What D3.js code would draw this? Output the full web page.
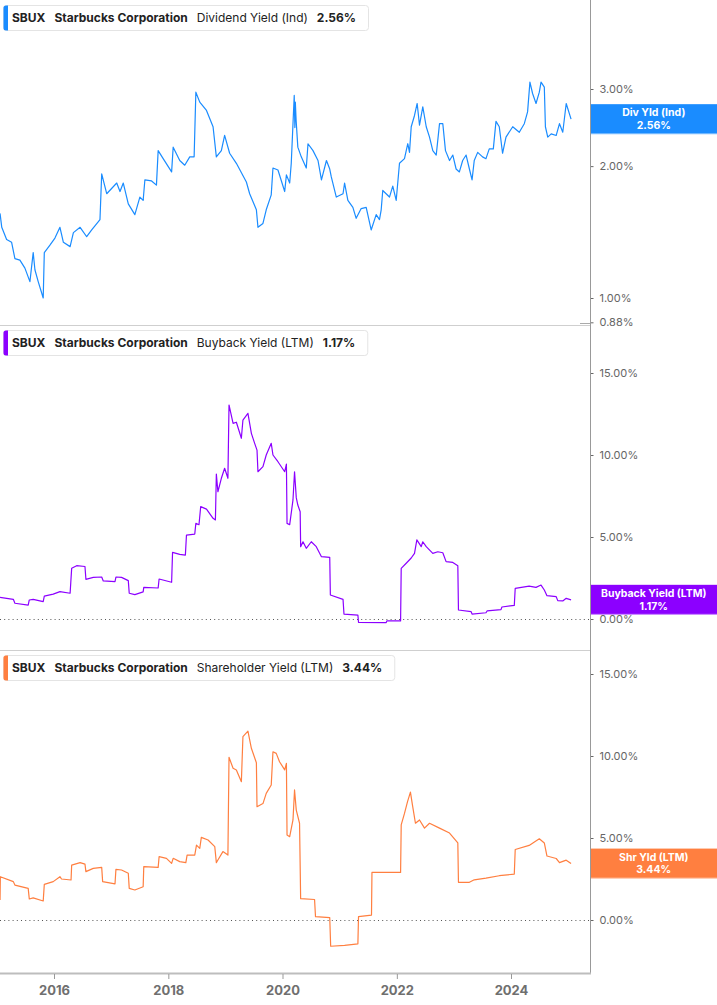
<!DOCTYPE html>
<html><head><meta charset="utf-8">
<script src="https://cdn.jsdelivr.net/npm/d3@7"></script>
<style>
body{margin:0;background:#fff;}
svg{display:block;font-family:Inter,"Noto Sans",sans-serif;}
</style>
</head><body>
<svg id="chart" width="717" height="1005"></svg>
<script>
// ---------- DATA ----------
const xTickYears = [2016, 2018, 2020, 2022, 2024];
const divTickValues = [3, 2, 1, 0.88];
const pctTickValues = [15, 10, 5, 0];

const divDates = ["2015-01-21","2015-02-01","2015-03-04","2015-04-05","2015-04-26","2015-05-28","2015-06-29","2015-07-31","2015-08-21","2015-09-01","2015-09-22","2015-10-24","2015-10-31","2015-12-06","2016-01-07","2016-02-08","2016-03-01","2016-04-13","2016-05-04","2016-06-16","2016-07-28","2016-08-29","2016-10-21","2016-11-01","2016-12-03","2017-02-05","2017-02-26","2017-03-19","2017-04-20","2017-06-01","2017-07-03","2017-07-24","2017-08-04","2017-09-16","2017-10-17","2017-10-28","2017-11-29","2018-01-22","2018-02-01","2018-03-15","2018-04-16","2018-05-18","2018-06-15","2018-06-26","2018-07-21","2018-09-02","2018-10-14","2018-11-04","2018-12-06","2018-12-27","2019-01-28","2019-03-12","2019-05-15","2019-06-05","2019-07-18","2019-07-28","2019-08-29","2019-09-19","2019-10-21","2019-11-01","2019-12-03","2020-01-15","2020-01-26","2020-02-16","2020-02-26","2020-03-16","2020-03-20","2020-03-23","2020-03-28","2020-04-08","2020-04-30","2020-06-01","2020-06-12","2020-07-14","2020-08-15","2020-09-06","2020-10-08","2020-10-29","2020-11-08","2020-12-10","2021-01-22","2021-02-01","2021-02-22","2021-03-26","2021-04-16","2021-05-18","2021-06-19","2021-07-21","2021-08-22","2021-09-12","2021-09-23","2021-10-03","2021-11-15","2021-12-06","2021-12-28","2022-01-18","2022-02-19","2022-03-12","2022-03-23","2022-04-03","2022-04-24","2022-05-11","2022-05-26","2022-06-16","2022-07-08","2022-07-29","2022-08-19","2022-09-10","2022-10-01","2022-10-22","2022-11-08","2022-12-04","2022-12-25","2023-01-15","2023-02-05","2023-02-26","2023-03-20","2023-04-10","2023-04-27","2023-05-11","2023-06-02","2023-07-03","2023-07-25","2023-08-15","2023-09-10","2023-09-27","2023-10-18","2023-11-08","2023-11-30","2024-01-12","2024-02-23","2024-03-26","2024-04-16","2024-05-01","2024-05-18","2024-06-09","2024-06-30","2024-07-11","2024-08-01","2024-08-08","2024-08-23","2024-09-14","2024-10-16","2024-11-06","2024-11-27","2024-12-19","2025-01-19"];
const divValues = [1.56,1.45,1.36,1.34,1.23,1.22,1.17,1.09,1.27,1.16,1.09,1.00,1.27,1.32,1.37,1.45,1.34,1.31,1.41,1.45,1.38,1.43,1.51,1.92,1.73,1.83,1.75,1.83,1.64,1.55,1.70,1.67,1.86,1.85,1.81,2.17,2.08,1.94,2.21,2.06,2.01,2.10,2.10,2.95,2.80,2.68,2.46,2.10,2.17,2.35,2.14,2.03,1.84,1.73,1.59,1.45,1.48,1.59,1.72,1.98,1.96,1.75,1.91,1.83,2.03,2.90,2.45,2.80,2.55,2.21,2.10,1.98,2.25,2.17,2.06,1.86,2.06,1.97,1.89,1.70,1.73,1.83,1.67,1.61,1.52,1.60,1.61,1.43,1.55,1.51,1.59,1.76,1.70,1.80,1.67,2.03,2.08,2.25,2.15,2.46,2.61,2.78,2.48,2.73,2.46,2.33,2.17,2.12,2.50,2.50,2.17,2.06,2.12,1.97,1.94,2.06,2.12,1.97,1.86,2.06,2.15,2.10,2.08,2.19,2.19,2.53,2.46,2.14,2.33,2.46,2.39,2.50,2.66,3.11,2.93,2.78,2.95,3.11,3.03,2.46,2.33,2.37,2.35,2.50,2.39,2.78,2.56];

const buybackDates = ["2015-01-21","2015-04-16","2015-04-26","2015-07-20","2015-07-27","2015-08-21","2015-10-24","2015-10-31","2015-12-27","2016-02-08","2016-04-13","2016-04-23","2016-05-25","2016-07-17","2016-07-23","2016-09-08","2016-11-01","2016-11-11","2017-01-25","2017-01-31","2017-03-08","2017-04-20","2017-04-26","2017-06-01","2017-07-24","2017-07-28","2017-10-28","2017-11-03","2018-01-22","2018-01-28","2018-03-15","2018-04-20","2018-04-27","2018-06-19","2018-06-26","2018-07-16","2018-07-27","2018-09-02","2018-10-14","2018-10-29","2018-11-04","2018-11-14","2018-12-06","2018-12-27","2019-01-17","2019-01-24","2019-02-19","2019-03-12","2019-04-13","2019-04-23","2019-05-25","2019-06-16","2019-07-07","2019-07-22","2019-07-28","2019-08-29","2019-09-19","2019-10-21","2019-11-01","2019-12-03","2020-01-15","2020-01-26","2020-01-30","2020-02-16","2020-03-08","2020-03-18","2020-03-29","2020-04-08","2020-04-23","2020-04-26","2020-05-11","2020-06-01","2020-07-03","2020-08-04","2020-09-06","2020-10-29","2020-11-02","2021-01-22","2021-01-28","2021-04-27","2021-05-01","2021-10-25","2021-10-29","2022-01-25","2022-01-29","2022-03-02","2022-04-03","2022-04-24","2022-05-09","2022-06-06","2022-06-16","2022-07-08","2022-08-19","2022-09-20","2022-10-22","2022-11-12","2022-12-25","2023-01-26","2023-01-30","2023-04-21","2023-04-27","2023-07-25","2023-08-01","2023-10-29","2023-11-04","2024-01-22","2024-01-28","2024-04-26","2024-06-09","2024-07-11","2024-08-01","2024-08-18","2024-10-16","2024-10-26","2024-11-27","2024-12-19","2025-01-19"];
const buybackValues = [1.32,1.20,0.96,0.85,1.16,1.20,1.06,1.40,1.52,1.67,1.57,3.09,3.25,3.20,2.42,2.54,2.56,2.32,2.28,2.56,2.54,2.34,1.57,1.49,1.65,1.93,1.89,2.44,2.24,4.06,3.94,3.90,5.12,5.18,5.83,5.75,6.85,6.70,6.14,6.04,8.84,7.76,8.58,9.19,8.58,13.05,11.93,12.00,11.02,12.13,12.54,11.32,10.71,10.30,8.98,9.29,10.00,10.71,10.00,9.59,8.98,9.45,5.83,5.75,7.26,8.98,7.40,6.95,6.54,4.41,4.71,4.31,4.71,4.41,3.80,3.76,1.46,1.20,0.30,0.24,-0.20,-0.22,-0.12,-0.12,3.09,3.40,3.72,4.00,4.82,4.41,4.71,4.41,4.00,4.10,4.04,3.50,3.45,3.25,0.55,0.45,0.30,0.38,0.49,0.57,0.73,0.83,1.87,2.01,1.93,2.07,1.77,1.42,1.36,1.12,1.10,1.26,1.17];

const shareholderDates = ["2015-01-21","2015-01-23","2015-04-16","2015-04-26","2015-07-20","2015-07-27","2015-08-21","2015-10-24","2015-10-31","2015-12-27","2016-02-08","2016-02-18","2016-04-19","2016-04-23","2016-06-16","2016-07-17","2016-07-23","2016-09-08","2016-11-01","2016-11-07","2017-01-25","2017-01-31","2017-03-08","2017-04-20","2017-04-26","2017-06-01","2017-07-24","2017-07-28","2017-10-28","2017-11-03","2017-12-20","2018-01-22","2018-02-01","2018-03-15","2018-04-23","2018-05-01","2018-06-19","2018-06-30","2018-07-21","2018-07-31","2018-09-12","2018-10-25","2018-11-04","2018-11-14","2018-12-16","2019-01-17","2019-01-24","2019-02-19","2019-03-12","2019-04-13","2019-04-23","2019-05-25","2019-06-16","2019-07-18","2019-07-22","2019-08-29","2019-09-19","2019-10-21","2019-11-01","2019-11-22","2019-12-13","2020-01-15","2020-01-26","2020-01-30","2020-02-16","2020-03-08","2020-03-18","2020-03-29","2020-04-19","2020-04-26","2020-07-24","2020-07-30","2020-10-29","2020-11-04","2021-02-01","2021-04-27","2021-05-01","2021-07-23","2021-07-26","2021-12-30","2022-01-25","2022-01-29","2022-02-19","2022-03-10","2022-03-29","2022-04-11","2022-04-30","2022-05-26","2022-06-27","2022-07-29","2022-10-01","2022-12-04","2023-01-26","2023-01-30","2023-04-10","2023-05-11","2023-07-25","2023-10-18","2024-01-22","2024-01-28","2024-04-26","2024-06-30","2024-08-01","2024-08-18","2024-10-16","2024-11-06","2024-12-19","2025-01-19"];
const shareholderValues = [1.22,2.64,2.34,2.13,1.93,1.28,1.35,1.16,2.17,2.34,2.64,2.50,2.44,3.35,3.50,3.41,2.95,3.15,3.21,2.34,2.20,3.09,3.05,2.85,1.93,1.83,2.03,3.25,3.21,3.86,3.76,3.45,3.76,3.56,3.50,3.96,3.96,4.57,4.37,5.04,4.88,4.47,3.50,3.66,4.17,3.96,9.92,9.25,9.15,8.43,11.18,11.52,10.47,9.59,6.91,7.10,7.72,8.23,10.26,10.16,9.65,9.15,9.55,5.18,5.08,6.10,7.93,6.70,5.90,1.30,1.25,0.20,0.15,-1.60,-1.55,-1.45,0.20,0.30,2.90,2.90,2.90,5.80,6.50,7.20,7.80,7.00,5.90,6.10,5.60,5.90,5.60,5.30,4.70,2.30,2.30,2.45,2.55,2.70,2.80,4.30,4.55,4.95,4.70,3.90,3.75,3.50,3.65,3.44];

const seriesNames = ["Dividend Yield (Ind)", "Buyback Yield (LTM)", "Shareholder Yield (LTM)"];
const badgeNames = ["Div Yld (Ind)", "Buyback Yield (LTM)", "Shr Yld (LTM)"];
const lastValues = [2.56, 1.17, 3.44];
const colors = ["#1a8cff", "#8c00ff", "#ff7f40"];

// ---------- CHART ----------
const svg = d3.select("#chart");
const parse = d3.utcParse("%Y-%m-%d");
const axisX = 590.5;
const x = d3.scaleUtc()
  .domain([Date.UTC(2016,0,1), Date.UTC(2024,0,1)])
  .range([54, 511]);

const panels = [
  {top:0, bottom:324, y:d3.scaleLog().domain([1,3]).range([298,89]), ticks:divTickValues,
   dates:divDates, values:divValues, legendY:5, zero:false},
  {top:326, bottom:649, y:d3.scaleLinear().domain([0,15]).range([619,373]), ticks:pctTickValues,
   dates:buybackDates, values:buybackValues, legendY:330, zero:true},
  {top:651, bottom:973, y:d3.scaleLinear().domain([0,15]).range([920,674]), ticks:pctTickValues,
   dates:shareholderDates, values:shareholderValues, legendY:655, zero:true}
];

const defs = svg.append("defs");

// separators
svg.append("line").attr("x1",0).attr("x2",axisX).attr("y1",325.5).attr("y2",325.5).attr("stroke","#cfcfcf");
svg.append("line").attr("x1",0).attr("x2",axisX).attr("y1",650.5).attr("y2",650.5).attr("stroke","#cfcfcf");
svg.append("line").attr("x1",580).attr("x2",axisX).attr("y1",323.5).attr("y2",323.5).attr("stroke","#aaa");

panels.forEach((p, i) => {
  defs.append("clipPath").attr("id","clip"+i)
    .append("rect").attr("x",0).attr("y",p.top).attr("width",axisX).attr("height",p.bottom-p.top);

  if (p.zero) {
    svg.append("line").attr("x1",0).attr("x2",axisX)
      .attr("y1",p.y(0)+0.5).attr("y2",p.y(0)+0.5)
      .attr("stroke","#555").attr("stroke-dasharray","1,3.2");
  }

  const data = p.dates.map((d,k)=>({date:parse(d), v:p.values[k]}));
  const line = d3.line().x(d=>x(d.date)).y(d=>p.y(d.v));
  svg.append("path").datum(data)
    .attr("clip-path","url(#clip"+i+")")
    .attr("d",line).attr("fill","none")
    .attr("stroke",colors[i]).attr("stroke-width",1.2).attr("stroke-linejoin","round");

  // right axis
  const ax = d3.axisRight(p.y).tickValues(p.ticks).tickSize(3).tickPadding(6)
    .tickFormat(d=>d3.format(".2f")(d)+"%");
  const g = svg.append("g").attr("transform",`translate(${axisX},0)`).call(ax);
  g.select(".domain").remove();
  g.selectAll(".tick line").attr("stroke","#666");
  g.selectAll(".tick text").attr("fill","#666").attr("font-size",11)
    .attr("font-family","Inter,'Noto Sans',sans-serif");

  // badge
  const cy = p.y(lastValues[i]);
  const bg = svg.append("g");
  bg.append("rect").attr("x",axisX+0.5).attr("y",cy-15).attr("width",717-axisX).attr("height",30).attr("fill",colors[i]);
  bg.append("rect").attr("x",axisX+0.5).attr("y",cy+14).attr("width",717-axisX).attr("height",1.2).attr("fill","#fff").attr("opacity",0.45);
  const cx = (axisX + 717)/2;
  bg.append("text").attr("x",cx).attr("y",cy-6.3).attr("text-anchor","middle").attr("dominant-baseline","central")
    .attr("fill","#fff").attr("font-size",10.5).attr("font-weight",700).text(badgeNames[i]);
  bg.append("text").attr("x",cx).attr("y",cy+6.3).attr("text-anchor","middle").attr("dominant-baseline","central")
    .attr("fill","#fff").attr("font-size",10.5).attr("font-weight",700).text(d3.format(".2f")(lastValues[i])+"%");

  // legend
  const lg = svg.append("g").attr("transform",`translate(3,${p.legendY})`);
  const box = lg.append("rect").attr("x",0.5).attr("y",0.5).attr("height",25).attr("rx",3)
    .attr("fill","#fff").attr("stroke","#e4e4e4");
  lg.append("path").attr("d","M3,0.5 h2 v25 h-2 a2.5,2.5 0 0 1 -2.5,-2.5 v-20 a2.5,2.5 0 0 1 2.5,-2.5 z").attr("fill",colors[i]);
  const parts = [["SBUX",700],["Starbucks Corporation",700],[seriesNames[i],400],[d3.format(".2f")(lastValues[i])+"%",700]];
  let tx = 9;
  parts.forEach(([t,w])=>{
    const el = lg.append("text").attr("x",tx).attr("y",17).attr("font-size",12).attr("font-weight",w)
      .attr("fill","#222").text(t);
    tx += el.node().getComputedTextLength() + 9;
  });
  box.attr("width", tx + 3);
});

// vertical axis line
svg.append("line").attr("x1",axisX).attr("x2",axisX).attr("y1",0).attr("y2",974).attr("stroke","#999");

// bottom axis
svg.append("line").attr("x1",0).attr("x2",axisX+0.5).attr("y1",973.5).attr("y2",973.5).attr("stroke","#bdbdbd").attr("stroke-width",2);
const xa = d3.axisBottom(x).tickValues(xTickYears.map(yy=>new Date(Date.UTC(yy,0,1))))
  .tickSize(5).tickPadding(7).tickFormat(d3.utcFormat("%Y"));
const gx = svg.append("g").attr("transform","translate(0,974)").call(xa);
gx.select(".domain").remove();
gx.selectAll(".tick line").attr("stroke","#999");
gx.selectAll(".tick text").attr("fill","#6f6f6f").attr("font-size",13).attr("font-weight",700)
  .attr("font-family","Inter,'Noto Sans',sans-serif");
</script>
</body></html>
